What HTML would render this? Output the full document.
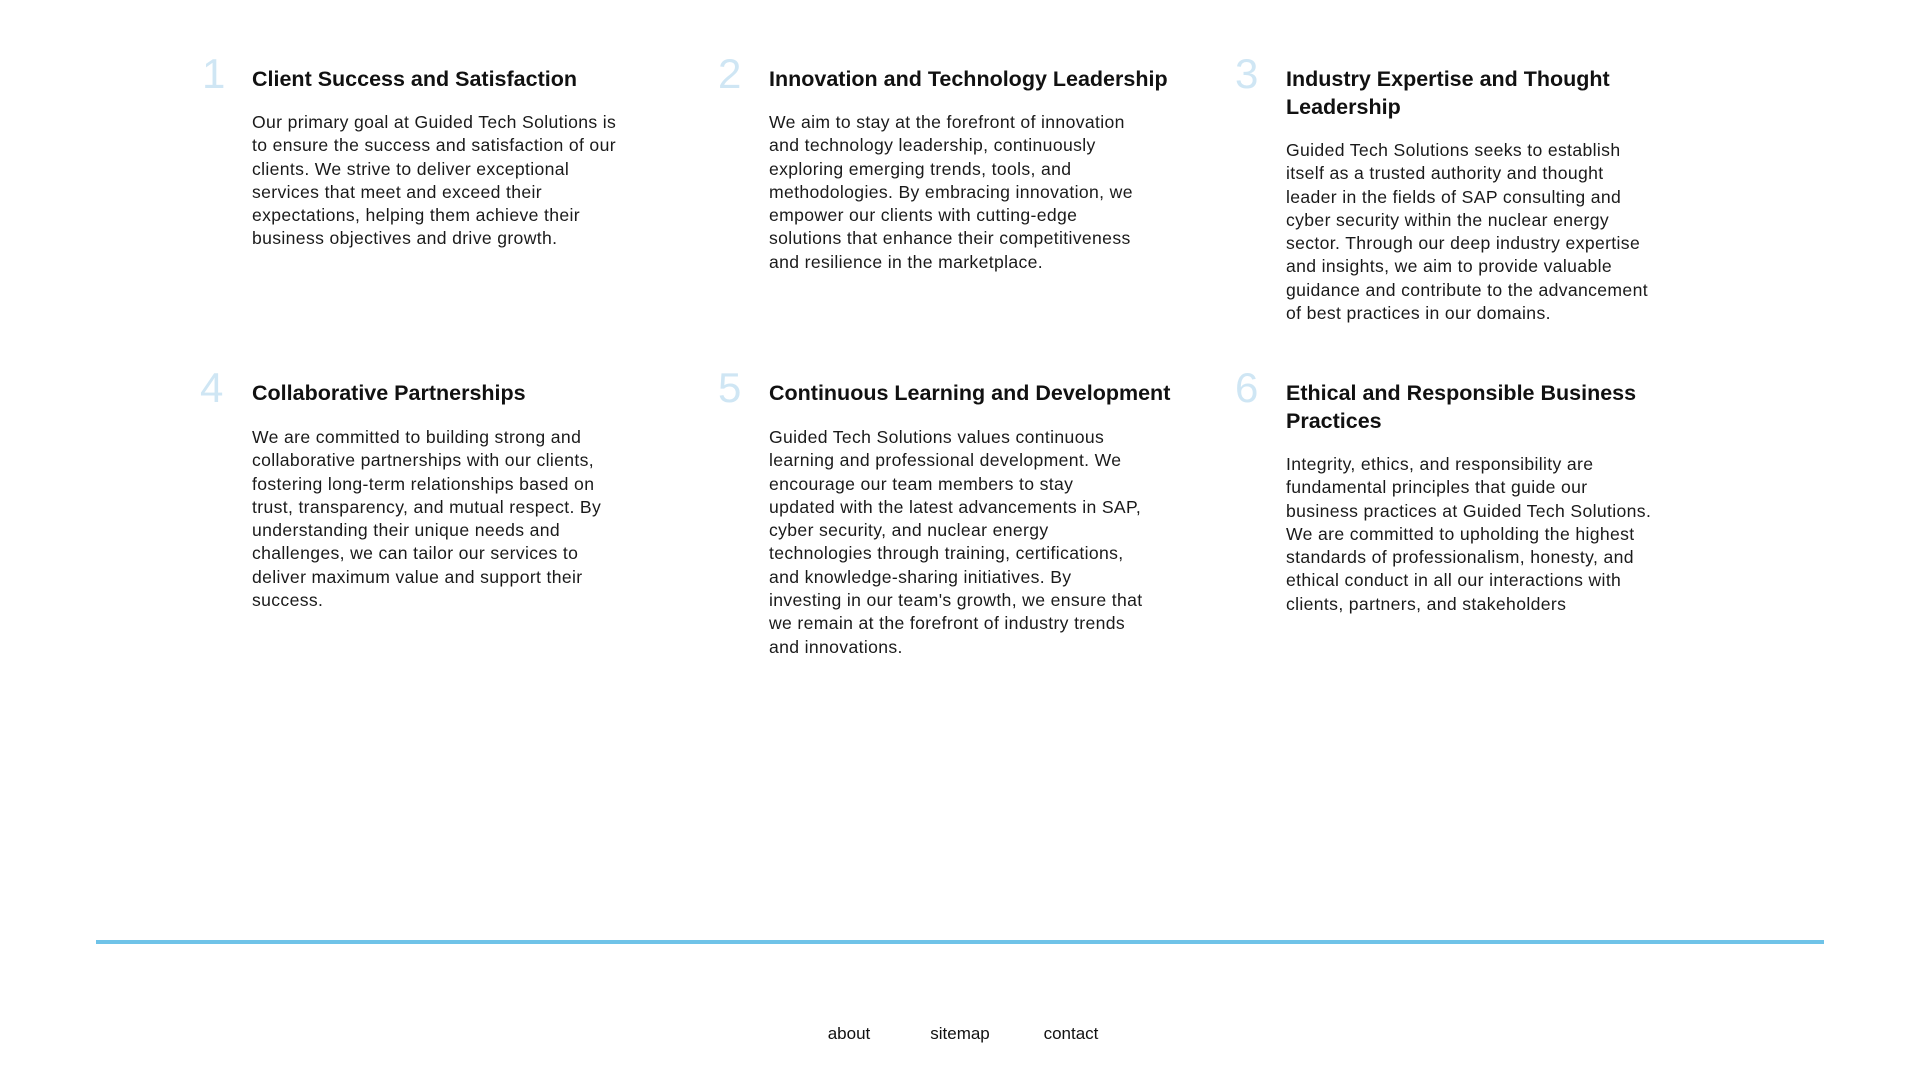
<!DOCTYPE html>
<html><head><meta charset="utf-8"><style>
body{margin:0;width:1920px;height:1080px;background:#fff;font-family:"Liberation Sans",sans-serif;color:#111;position:relative;overflow:hidden}
.item{position:absolute}
.num{position:absolute;font-size:42px;color:#cfe6f4;line-height:1}
.h{position:absolute;font-weight:bold;font-size:21.5px;line-height:28px;white-space:nowrap;color:#111}
.p{position:absolute;font-size:17.6px;line-height:23.3px;letter-spacing:0.35px;white-space:nowrap;color:#1a1a1a}
.rule{position:absolute;left:96px;top:940px;width:1728px;height:4px;background:#6fc3e8}
.f{position:absolute;top:1024px;font-size:17px;color:#111;transform:translateX(-50%)}
</style></head><body>
<div class="item">
<div class="num" style="left:202px;top:53px">1</div>
<div class="h" style="left:252px;top:65px">Client Success and Satisfaction</div>
<div class="p" style="left:252px;top:111px">Our primary goal at Guided Tech Solutions is<br>to ensure the success and satisfaction of our<br>clients. We strive to deliver exceptional<br>services that meet and exceed their<br>expectations, helping them achieve their<br>business objectives and drive growth.</div></div>
<div class="item">
<div class="num" style="left:718px;top:53px">2</div>
<div class="h" style="left:769px;top:65px">Innovation and Technology Leadership</div>
<div class="p" style="left:769px;top:111px">We aim to stay at the forefront of innovation<br>and technology leadership, continuously<br>exploring emerging trends, tools, and<br>methodologies. By embracing innovation, we<br>empower our clients with cutting-edge<br>solutions that enhance their competitiveness<br>and resilience in the marketplace.</div></div>
<div class="item">
<div class="num" style="left:1235px;top:53px">3</div>
<div class="h" style="left:1286px;top:65px">Industry Expertise and Thought<br>Leadership</div>
<div class="p" style="left:1286px;top:139px">Guided Tech Solutions seeks to establish<br>itself as a trusted authority and thought<br>leader in the fields of SAP consulting and<br>cyber security within the nuclear energy<br>sector. Through our deep industry expertise<br>and insights, we aim to provide valuable<br>guidance and contribute to the advancement<br>of best practices in our domains.</div></div>
<div class="item">
<div class="num" style="left:200px;top:367px">4</div>
<div class="h" style="left:252px;top:379px">Collaborative Partnerships</div>
<div class="p" style="left:252px;top:426px">We are committed to building strong and<br>collaborative partnerships with our clients,<br>fostering long-term relationships based on<br>trust, transparency, and mutual respect. By<br>understanding their unique needs and<br>challenges, we can tailor our services to<br>deliver maximum value and support their<br>success.</div></div>
<div class="item">
<div class="num" style="left:718px;top:367px">5</div>
<div class="h" style="left:769px;top:379px">Continuous Learning and Development</div>
<div class="p" style="left:769px;top:426px">Guided Tech Solutions values continuous<br>learning and professional development. We<br>encourage our team members to stay<br>updated with the latest advancements in SAP,<br>cyber security, and nuclear energy<br>technologies through training, certifications,<br>and knowledge-sharing initiatives. By<br>investing in our team's growth, we ensure that<br>we remain at the forefront of industry trends<br>and innovations.</div></div>
<div class="item">
<div class="num" style="left:1235px;top:367px">6</div>
<div class="h" style="left:1286px;top:379px">Ethical and Responsible Business<br>Practices</div>
<div class="p" style="left:1286px;top:453px">Integrity, ethics, and responsibility are<br>fundamental principles that guide our<br>business practices at Guided Tech Solutions.<br>We are committed to upholding the highest<br>standards of professionalism, honesty, and<br>ethical conduct in all our interactions with<br>clients, partners, and stakeholders</div></div>
<div class="rule"></div>
<div class="f" style="left:849px">about</div>
<div class="f" style="left:960px">sitemap</div>
<div class="f" style="left:1071px">contact</div>
</body></html>
